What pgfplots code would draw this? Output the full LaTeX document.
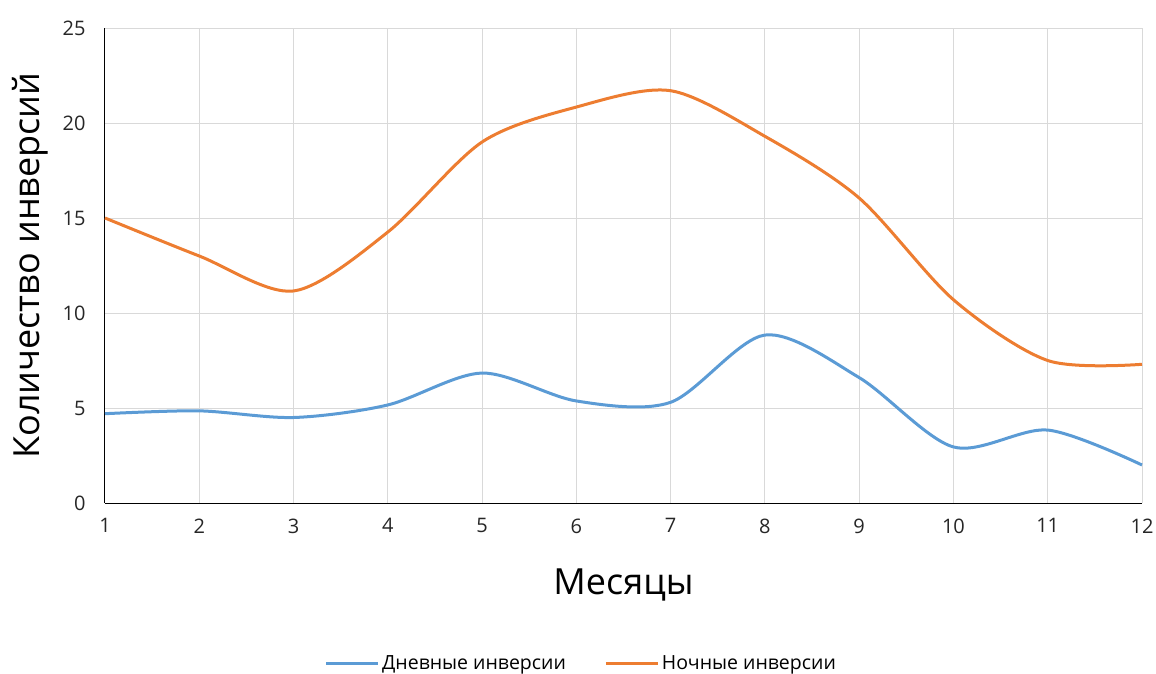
\documentclass[border=0pt]{standalone}
\usepackage{fontspec}
\setmainfont{Open Sans}
\usepackage{pgfplots}
\pgfplotsset{compat=1.18}
\definecolor{cblue}{HTML}{5B9BD5}
\definecolor{corange}{HTML}{ED7D31}
\definecolor{cgrid}{HTML}{D9D9D9}
\begin{document}
\begin{tikzpicture}[x=1pt,y=1pt]
\begin{axis}[
  at={(0,0)}, anchor=south west,
  scale only axis, width=1037pt, height=475pt,
  xmin=1, xmax=12, ymin=0, ymax=25,
  xtick={1,...,12}, ytick={0,5,...,25},
  grid=major, grid style={cgrid, line width=1pt},
  axis x line*=bottom, axis y line*=left,
  axis line style={black, line width=1pt, -},
  major tick length=0pt,
  tick label style={font=\fontsize{20}{22}\selectfont, text=black!85},
  /pgf/number format/assume math mode=true,
  xticklabel style={yshift=-12pt},
  yticklabel style={xshift=-16pt},
  xlabel={Месяцы}, ylabel={Количество инверсий},
  label style={font=\fontsize{36}{40}\selectfont},
  xlabel style={at={(axis description cs:0.5,-0.1726)}, anchor=center},
  ylabel style={at={(axis description cs:-0.0723,0.5)}, anchor=center, rotate=0},
  legend style={at={(axis description cs:0.4595,-0.337)}, anchor=center,
    draw=none, font=\fontsize{19.5}{22}\selectfont, legend columns=2,
    nodes={inner xsep=2.5pt},
    /tikz/every even column/.append style={column sep=36pt}},
  legend image code/.code={\draw[#1, line width=3pt] (0pt,0pt) -- (52pt,0pt);},
  every axis plot/.append style={line width=3pt, smooth, tension=0.5},
  clip=false,
]
\addplot[cblue] coordinates {(1,4.7) (2,4.85) (3,4.5) (4,5.16) (5,6.84) (6,5.37) (7,5.3) (8,8.84) (9,6.6) (10,2.95) (11,3.84) (12,2.0)};
\addlegendentry{Дневные инверсии}
\addplot[corange] coordinates {(1,15.0) (2,13.0) (3,11.16) (4,14.26) (5,19.0) (6,20.84) (7,21.7) (8,19.3) (9,16.05) (10,10.7) (11,7.5) (12,7.3)};
\addlegendentry{Ночные инверсии}
\end{axis}
\pgfresetboundingbox
\useasboundingbox (-105,-170) rectangle (1051,503);
\end{tikzpicture}
\end{document}
